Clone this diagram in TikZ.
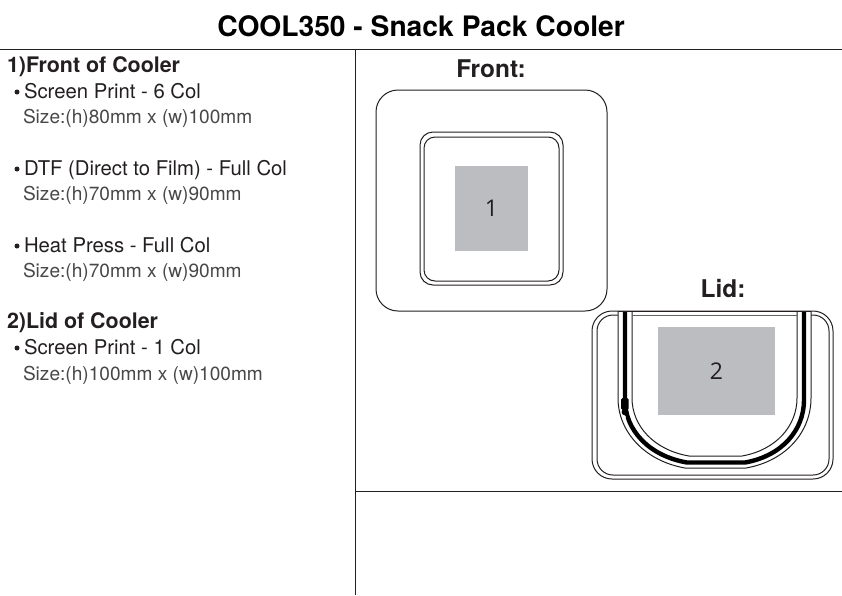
\documentclass[tikz,border=0pt]{standalone}
\usepackage{fontspec}
\setmainfont{TeX Gyre Heros}
\newfontfamily\numfont{Open Sans}
\definecolor{printgray}{HTML}{BCBDC0}
\definecolor{ink}{HTML}{231F20}
\definecolor{sizeink}{HTML}{484848}
\newcommand{\ptsize}[1]{\fontsize{#1}{#1}\selectfont}
\tikzset{
  x=1pt,y=-1pt,
  rule/.style={draw=ink,line width=0.8pt},
  outline/.style={draw=ink,line width=1pt,fill=white},
  ushape/.style={draw=ink,line width=1pt},
  printarea/.style={fill=printgray,draw=none},
  lbl/.style={anchor=base west,inner sep=0pt,outer sep=0pt,text=ink},
  heading/.style={lbl,font=\ptsize{21.4}\bfseries},
  item/.style={lbl,font=\ptsize{20.3}},
  sizeline/.style={lbl,font=\ptsize{19.1},text=sizeink},
  view/.style={anchor=base,inner sep=0pt,text=ink,font=\ptsize{24.4}\bfseries},
  areanum/.style={inner sep=0pt,text=ink,font=\numfont\ptsize{23}},
  bulletdot/.style={circle,fill=ink,draw=none,inner sep=0pt,minimum size=5pt},
}
\begin{document}
\begin{tikzpicture}
\useasboundingbox (0,0) rectangle (842,595);
\fill[white] (0,0) rectangle (842,595);
\node[anchor=base,inner sep=0pt,text=black,font=\ptsize{28.2}\bfseries] (title) at (421,36) {COOL350 - Snack Pack Cooler};
\coordinate (tl) at (0,49.6); \coordinate (tr) at (842,49.6);
\coordinate (vt) at (355,49.6); \coordinate (vb) at (355,595);
\coordinate (hl) at (355,491); \coordinate (hr) at (842,491);
\draw[rule] (tl) -- (tr);
\draw[rule] (vt) -- (vb);
\draw[rule] (hl) -- (hr);
% left text
\node[heading] (h1) at (7,72.5) {1)Front of Cooler};
\node[bulletdot] (b1) at (17,92) {};
\node[item] (i1) at (24,98.5) {Screen Print - 6 Col};
\node[sizeline] (s1) at (23,123.5) {Size:(h)80mm x (w)100mm};
\node[bulletdot] (b2) at (17,169) {};
\node[item] (i2) at (24,175.5) {DTF (Direct to Film) - Full Col};
\node[sizeline] (s2) at (23,200.5) {Size:(h)70mm x (w)90mm};
\node[bulletdot] (b3) at (17,246) {};
\node[item] (i3) at (24,252.5) {Heat Press - Full Col};
\node[sizeline] (s3) at (23,277.5) {Size:(h)70mm x (w)90mm};
\node[heading] (h2) at (7,328.5) {2)Lid of Cooler};
\node[bulletdot] (b4) at (17,348) {};
\node[item] (i4) at (24,354.5) {Screen Print - 1 Col};
\node[sizeline] (s4) at (23,380.5) {Size:(h)100mm x (w)100mm};
% front
\node[view] (fronttxt) at (491,77) {Front:};
\draw[outline,rounded corners=22pt] (376,90) rectangle (607,311);
\draw[outline,rounded corners=13pt] (420,132) rectangle (563,285);
\draw[outline,rounded corners=11pt] (424,137) rectangle (559,281);
\node[printarea,minimum width=73pt,minimum height=85pt,inner sep=0pt] (area1) at (491.5,208.5) {};
\node[areanum] at (area1) {1};
% lid
\node[view] (lidtxt) at (723,297) {Lid:};
\draw[outline,rounded corners=20pt] (592,311) rectangle (833,479);
\draw[outline,rounded corners=16pt] (597,315) rectangle (829,475);
% U: outer line, white band, thick zip, inner line
\fill[white] (618,311) -- (618,398) .. controls (618,432) and (645,461) .. (685,468) -- (746,468) .. controls (786,461) and (811,432) .. (811,398) -- (811,311) -- cycle;
\draw[ushape] (618,311) -- (618,398) .. controls (618,432) and (645,461) .. (685,468) -- (746,468) .. controls (786,461) and (811,432) .. (811,398) -- (811,311);
\draw[black,line width=4.4pt] (625,311) -- (625,400) .. controls (625,430) and (649,456) .. (687,462.5) -- (745,462.5) .. controls (782,456) and (804,430) .. (804,400) -- (804,311);
\draw[ushape] (632,311) -- (632,398) .. controls (632,426) and (654,450) .. (689,456) -- (742,456) .. controls (776,450) and (797,426) .. (797,398) -- (797,311);
\draw[ushape] (618,311) -- (811,311);
\draw[ushape,draw=ink!70] (632,315) -- (797,315);
% zipper pull
\fill[black,rounded corners=1.5pt] (621,398) rectangle (628.5,410);
\fill[black] (625,412) circle (3.4pt);
\fill[white] (624.5,417) circle (1.5pt);
\node[printarea,minimum width=117pt,minimum height=88pt,inner sep=0pt] (area2) at (716.5,371) {};
\node[areanum] at (area2) {2};
\end{tikzpicture}
\end{document}
